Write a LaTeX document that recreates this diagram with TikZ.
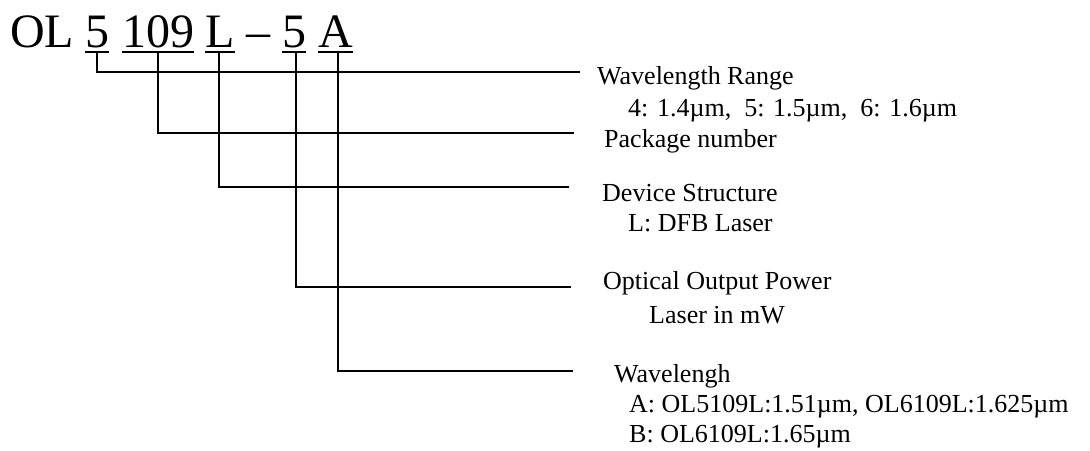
\documentclass[tikz,border=0pt]{standalone}
\usepackage{fontspec}
\setmainfont{Liberation Serif}
\tikzset{
  code/.style={inner sep=0pt, anchor=base west, font=\fontsize{48}{56}\selectfont},
  note/.style={inner sep=0pt, anchor=base west, font=\fontsize{26}{30}\selectfont},
  uline/.style={line width=2.4pt},
  lead/.style={line width=1.8pt},
}
\begin{document}
\begin{tikzpicture}[x=1pt, y=-1pt]
  \useasboundingbox (0, 0) rectangle (1090, 450);

  %%part number
  \node[code] (ol)    at (10, 47)  {OL};
  \node[code] (band)  at (85, 47)  {5};
  \node[code] (pkg)   at (122, 47) {109};
  \node[code] (dev)   at (205, 47) {L};
  \node[code] (dash)  at (246, 47) {--};
  \node[code] (power) at (282, 47) {5};
  \node[code] (wave)  at (318, 47) {A};

  \draw[uline]([yshift=-5pt]band.base west) to ([yshift=-5pt]band.base east);
  \draw[uline]([yshift=-5pt]pkg.base west) to ([yshift=-5pt]pkg.base east);
  \draw[uline]([yshift=-5pt]dev.base west) to ([yshift=-5pt]dev.base east);
  \draw[uline]([yshift=-5pt]power.base west) to ([yshift=-5pt]power.base east);
  \draw[uline]([yshift=-5pt]wave.base west) to ([yshift=-5pt]wave.base east);

  %%notes
  \node[note] (wlRange)   at (597, 84)  {Wavelength Range};
  \node[note] (wlList)    at (628, 116) {4: 1.4µm,\ \ 5: 1.5µm,\ \ 6: 1.6µm};
  \node[note] (pkgNum)    at (604, 147) {Package number};
  \node[note] (devStruct) at (602, 201) {Device Structure};
  \node[note] (devType)   at (628, 231) {L: DFB Laser};
  \node[note] (optPower)  at (603, 289) {Optical Output Power};
  \node[note] (optUnit)   at (649, 323) {Laser in mW};
  \node[note] (wlHead)    at (614, 382) {Wavelengh};
  \node[note] (wlA)       at (629, 412) {A: OL5109L:1.51µm, OL6109L:1.625µm};
  \node[note] (wlB)       at (629, 442) {B: OL6109L:1.65µm};

  %%leads
  \coordinate (endBand)  at (580, 72);
  \coordinate (endPkg)   at (574, 133);
  \coordinate (endDev)   at (569, 187);
  \coordinate (endPower) at (571, 287);
  \coordinate (endWave)  at (573, 371);

  \draw[lead]([yshift=-5pt]band.base) |- (endBand);
  \draw[lead]([yshift=-5pt]pkg.base) |- (endPkg);
  \draw[lead]([xshift=-1pt, yshift=-5pt]dev.base) |- (endDev);
  \draw[lead]([xshift=2pt, yshift=-5pt]power.base) |- (endPower);
  \draw[lead]([xshift=2.5pt, yshift=-5pt]wave.base) |- (endWave);
\end{tikzpicture}
\end{document}
